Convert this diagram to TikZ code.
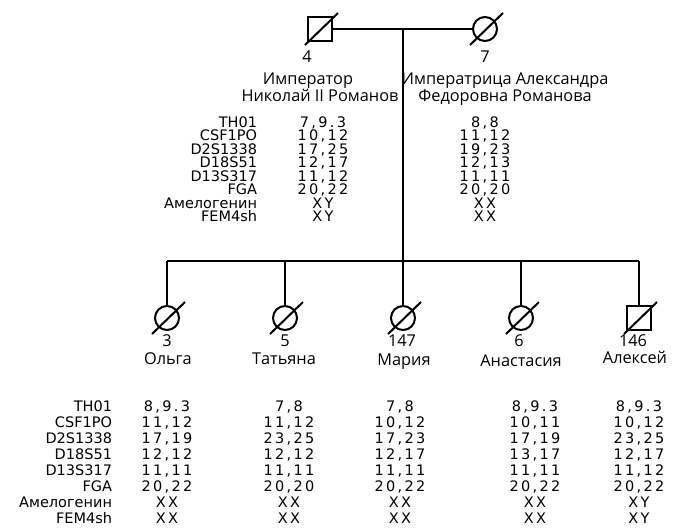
\documentclass[tikz,border=0pt]{standalone}
\usepackage{fontspec}
\setmainfont{Open Sans}
\newfontfamily\namefont{Open Sans}
\newfontfamily\tabfont{DejaVu Sans}
\newfontfamily\valfont[LetterSpace=16]{DejaVu Sans}
\begin{document}
\begin{tikzpicture}[x=1pt,y=-1pt,line width=2pt,
  male/.style={draw,rectangle,minimum size=24pt,inner sep=0pt},
  female/.style={draw,circle,minimum size=24pt,inner sep=0pt},
  nm/.style={anchor=base,inner sep=0pt,font=\namefont\fontsize{16.3}{18}\selectfont},
  lab/.style={anchor=base east,inner sep=0pt,font=\tabfont\fontsize{14.5}{14}\selectfont},
  val/.style={anchor=base,inner sep=0pt,font=\valfont\fontsize{14.5}{14}\selectfont}]
\useasboundingbox (0,0) rectangle (688,531);
\newcommand\deadslash[1]{\draw ([shift={(-15,16)}]#1.center) -- ([shift={(18,-16)}]#1.center);}
\newcommand\vcol[5]{% name, x, y0, step, list
  \foreach \v [count=\i from 0] in {#5} {\node[val] (#1-\i) at (#2,#3+\i*#4) {\v};}}
\newcommand\lcol[4]{% name, x, y0, step
  \foreach \v [count=\i from 0] in {TH01,CSF1PO,D2S1338,D18S51,D13S317,FGA,Амелогенин,FEM4sh}
    {\node[lab] (#1-\i) at (#2,#3+\i*#4) {\v};}}
% parents
\node[male] (f) at (320,29) {};
\node[female] (m) at (485,29) {};
\deadslash{f}\deadslash{m}
\coordinate (mid) at (403,29);
\coordinate (sib) at (403,261);
\coordinate (sibL) at (167,261);
\coordinate (sibR) at (639,261);
\draw (f.east) -- (m.west);
\draw (mid) -- (sib);
\draw (sibL) -- (sibR);
\node[nm] (fn) at (307,62) {4};
\node[nm] (mn) at (485,62) {7};
\node[nm] (f1) at (308,84) {Император};
\node[nm] (f2) at (320,101) {Николай II Романов};
\node[nm] (m1) at (505,84) {Императрица Александра};
\node[nm] (m2) at (505,101) {Федоровна Романова};
% upper table
\lcol{ul}{258}{127}{13.5}
\vcol{fv}{323}{127}{13.5}{{7,9.3},{10,12},{17,25},{12,17},{11,12},{20,22},XY,XY}
\vcol{mv}{485}{127}{13.5}{{8,8},{11,12},{19,23},{12,13},{11,11},{20,20},XX,XX}
% children
\foreach \nmk/\x/\sh/\num/\nx/\name/\lx/\ny in {c1/167/female/3/167/Ольга/168/364,c2/285/female/5/285/Татьяна/284/364,c3/403/female/147/402/Мария/404/365,c4/521/female/6/519/Анастасия/521/366,c5/639/male/146/633/Алексей/635/363}{
  \node[\sh] (\nmk) at (\x,318) {};
  \coordinate (\nmk-top) at (\x,261);
  \draw (\nmk-top) -- (\nmk);
  \deadslash{\nmk}
  \node[nm] (\nmk-n) at (\nx,346) {\num};
  \node[nm] (\nmk-l) at (\lx,\ny) {\name};
}
% lower table
\lcol{ll}{113}{411}{16}
\vcol{v1}{167}{411}{16}{{8,9.3},{11,12},{17,19},{12,12},{11,11},{20,22},XX,XX}
\vcol{v2}{289}{411}{16}{{7,8},{11,12},{23,25},{12,12},{11,11},{20,20},XX,XX}
\vcol{v3}{400}{411}{16}{{7,8},{10,12},{17,23},{12,17},{11,11},{20,22},XX,XX}
\vcol{v4}{535}{411}{16}{{8,9.3},{10,11},{17,19},{13,17},{11,11},{20,22},XX,XX}
\vcol{v5}{639}{411}{16}{{8,9.3},{10,12},{23,25},{12,17},{11,12},{20,22},XY,XY}
\end{tikzpicture}
\end{document}
